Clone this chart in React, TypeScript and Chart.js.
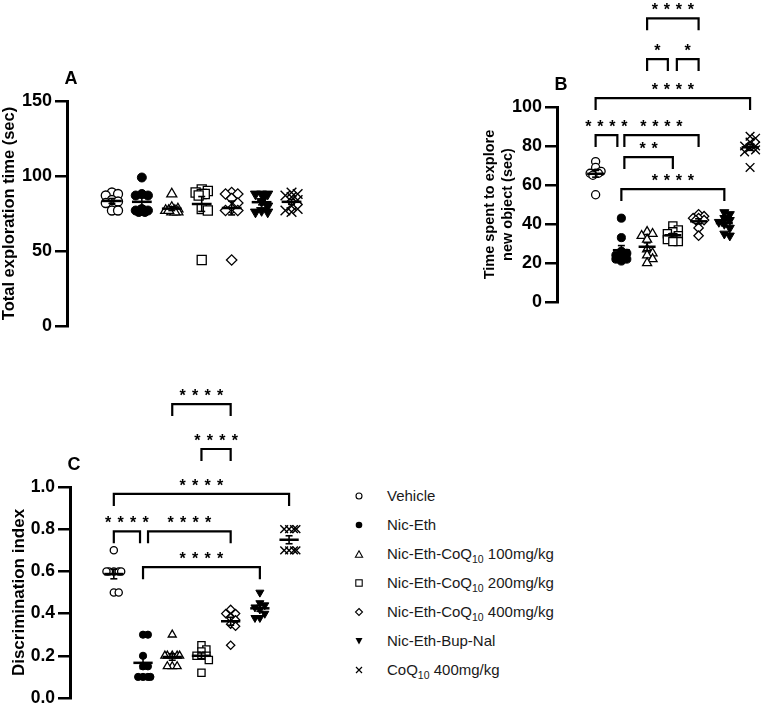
import React, { useEffect, useRef } from "react";
import { Chart, registerables } from "chart.js";
Chart.register(...registerables);

const FONT = "'Liberation Sans', Arial, Helvetica, sans-serif";

const groupNames = [
  "Vehicle",
  "Nic-Eth",
  "Nic-Eth-CoQ10 100mg/kg",
  "Nic-Eth-CoQ10 200mg/kg",
  "Nic-Eth-CoQ10 400mg/kg",
  "Nic-Eth-Bup-Nal",
  "CoQ10 400mg/kg",
];

// Panel A: total exploration time (sec)
const totalVehicle = [89, 88, 87, 84, 83, 82, 77, 77];
const totalNicEth = [99, 88, 87, 87, 78, 77, 77, 76, 76];
const totalCoQ100 = [88, 79, 78, 77, 77, 76, 76, 76, 77];
const totalCoQ200 = [44, 91, 90, 89, 88, 88, 87, 78, 77];
const totalCoQ400 = [44, 89, 88, 88, 85, 82, 78, 77, 77];
const totalBupNal = [88, 88, 88, 87, 83, 80, 77, 76, 76];
const totalCoQOnly = [89, 88, 87, 86, 84, 80, 78, 77, 76];

// Panel B: time spent to explore new object (sec)
const newObjVehicle = [72, 69, 67, 66, 66, 66, 65, 55];
const newObjNicEth = [43, 33, 26, 25, 24, 23, 22, 21, 22];
const newObjCoQ100 = [36, 35, 34, 32, 27, 25, 24, 22, 20];
const newObjCoQ200 = [39, 37, 36, 35, 34, 33, 32, 31, 31];
const newObjCoQ400 = [45, 44, 43, 43, 42, 42, 38, 34];
const newObjBupNal = [46, 45, 43, 42, 41, 40, 38, 35, 34];
const newObjCoQOnly = [85, 84, 82, 80, 80, 79, 78, 77, 69];

// Panel C: discrimination index
const diVehicle = [0.7, 0.6, 0.6, 0.6, 0.6, 0.6, 0.5, 0.5];
const diNicEth = [0.3, 0.3, 0.2, 0.15, 0.15, 0.1, 0.1, 0.1, 0.1];
const diCoQ100 = [0.3, 0.2, 0.2, 0.2, 0.2, 0.2, 0.15, 0.15, 0.15];
const diCoQ200 = [0.25, 0.23, 0.22, 0.2, 0.2, 0.2, 0.18, 0.12];
const diCoQ400 = [0.42, 0.4, 0.4, 0.38, 0.37, 0.35, 0.34, 0.25];
const diBupNal = [0.5, 0.45, 0.44, 0.43, 0.42, 0.4, 0.38, 0.38];
const diCoQOnly = [0.8, 0.8, 0.8, 0.8, 0.7, 0.7, 0.7, 0.7];

// Significance comparisons: groups (1-based), bracket level in y units, label
const newObjComparisons = [
  { a: 1, b: 2, level: 85.6, label: "****" },
  { a: 2, b: 5, level: 85.6, label: "****" },
  { a: 2, b: 4, level: 74.3, label: "**" },
  { a: 2, b: 6, level: 57.9, label: "****" },
  { a: 1, b: 7, level: 104.6, label: "****" },
  { a: 3, b: 4, level: 124.6, label: "*" },
  { a: 4, b: 5, level: 124.6, label: "*" },
  { a: 3, b: 5, level: 145.5, label: "****" },
];
const newObjBracketGaps = [[0, -4], [3, 0], [3, 0], [0, 0], [0, 0], [0, -5], [4, 0], [0, 0]];

const diComparisons = [
  { a: 1, b: 2, level: 0.79, label: "****" },
  { a: 2, b: 5, level: 0.79, label: "****" },
  { a: 2, b: 6, level: 0.62, label: "****" },
  { a: 1, b: 7, level: 0.967, label: "****" },
  { a: 4, b: 5, level: 1.18, label: "****" },
  { a: 3, b: 5, level: 1.393, label: "****" },
];
const diBracketGaps = [[0, -3], [5, 0], [0, 0], [0, 0], [0, 0], [0, 0]];

const markerStyles = [
  { style: "circle", fill: "#fff", rot: 0, r: 4.5, bw: 1.3 },
  { style: "circle", fill: "#000", rot: 0, r: 4.5, bw: 1 },
  { style: "triangle", fill: "#fff", rot: 0, r: 5.8, bw: 1.3 },
  { style: "rect", fill: "#fff", rot: 0, r: 6.4, bw: 1.3 },
  { style: "rectRot", fill: "#fff", rot: 0, r: 5.2, bw: 1.3 },
  { style: "triangle", fill: "#000", rot: 180, r: 5.8, bw: 1 },
  { style: "crossRot", fill: "#000", rot: 0, r: 6.8, bw: 1.4 },
];

type Cmp = { a: number; b: number; level: number; label: string };
type Spec = {
  letter: string;
  box: { left: number; top: number; w: number; h: number };
  padL: number;
  yWidth: number;
  padTop: number;
  padBottom: number;
  spacing: number;
  yMax: number;
  step: number;
  tickSize: number;
  decimals: number;
  title: string | string[];
  titleSize: number;
  titleLH: number;
  size: number;
  spread: number;
  groups: number[][];
  comps: Cmp[];
  gaps: number[][];
  starSpacing: number;
};

function swarmOffsets(vals: number[], pxPerY: number, spacing: number, diam: number, maxHalf: number): number[] {
  const idx = vals.map((_, i) => i).sort((p, q) => vals[q] - vals[p]);
  const placed: [number, number][] = [];
  const out = new Array(vals.length).fill(0);
  const step = diam * 0.35;
  const minD = diam * 0.69;
  for (const i of idx) {
    const py = vals[i] * pxPerY;
    let best = 0;
    let bestD = -1;
    let found = false;
    for (let k = 0; k < 80; k++) {
      const dx = k === 0 ? 0 : (k % 2 ? 1 : -1) * Math.ceil(k / 2) * step;
      if (Math.abs(dx) > maxHalf) break;
      const d = placed.reduce((mn, [px, qy]) => Math.min(mn, Math.hypot(px - dx, qy - py)), 1e9);
      if (d >= minD) {
        best = dx;
        found = true;
        break;
      }
      if (d > bestD) {
        bestD = d;
        best = dx;
      }
    }
    void found;
    placed.push([best, py]);
    out[i] = best / spacing;
  }
  return out;
}

function makeExtras(p: Spec) {
  return {
    id: "extras" + p.letter,
    afterDatasetsDraw(chart: any) {
      const { ctx, chartArea } = chart;
      const xs = chart.scales.x;
      const ys = chart.scales.y;
      const unit = xs.getPixelForValue(1) - xs.getPixelForValue(0);
      const line = (x1: number, y1: number, x2: number, y2: number) => {
        ctx.beginPath();
        ctx.moveTo(x1, y1);
        ctx.lineTo(x2, y2);
        ctx.stroke();
      };
      ctx.save();
      ctx.strokeStyle = "#000";
      ctx.fillStyle = "#000";
      p.groups.forEach((vals, i) => {
        const n = vals.length;
        const m = vals.reduce((s, v) => s + v, 0) / n;
        const sd = Math.sqrt(vals.reduce((s, v) => s + (v - m) * (v - m), 0) / (n - 1));
        const sem = sd / Math.sqrt(n);
        const cx = xs.getPixelForValue(i + 1);
        const half = unit * 0.33;
        const ym = ys.getPixelForValue(m);
        ctx.lineWidth = 2.5;
        line(cx - half, ym, cx + half, ym);
        ctx.lineWidth = 1.6;
        const yt = ys.getPixelForValue(m + sem);
        const yb = ys.getPixelForValue(m - sem);
        line(cx, yt, cx, yb);
        line(cx - 3.5, yt, cx + 3.5, yt);
        line(cx - 3.5, yb, cx + 3.5, yb);
      });
      ctx.lineWidth = 2.2;
      p.comps.forEach((c, k) => {
        const g = p.gaps[k] || [0, 0];
        const x1 = xs.getPixelForValue(c.a) + g[0];
        const x2 = xs.getPixelForValue(c.b) + g[1];
        const y = ys.getPixelForValue(c.level);
        ctx.beginPath();
        ctx.moveTo(x1, y + 12);
        ctx.lineTo(x1, y);
        ctx.lineTo(x2, y);
        ctx.lineTo(x2, y + 12);
        ctx.stroke();
        const n = c.label.length;
        const cx = (x1 + x2) / 2;
        const cy = y - 13;
        const fs = 16;
        ctx.font = `bold ${fs}px ${FONT}`;
        ctx.textAlign = "center";
        ctx.textBaseline = "alphabetic";
        for (let j = 0; j < n; j++) {
          ctx.fillText("*", cx + (j - (n - 1) / 2) * p.starSpacing, cy + 0.6 * fs);
        }
      });
      ctx.font = `bold 18px ${FONT}`;
      ctx.textAlign = "center";
      ctx.textBaseline = "middle";
      ctx.fillText(p.letter, chartArea.left + 4, chartArea.top - 22);
      ctx.restore();
    },
  };
}

function buildConfig(p: Spec): any {
  const chartH = p.box.h - p.padTop - p.padBottom;
  const pxPerY = chartH / p.yMax;
  const xMin = -0.5;
  const xMax = xMin + (p.box.w - p.padL - p.yWidth) / p.spacing;
  const datasets = p.groups.map((vals, i) => {
    const ms = markerStyles[i];
    const offs = swarmOffsets(vals, pxPerY, p.spacing, 9 * p.size, p.spread);
    return {
      label: groupNames[i],
      data: vals.map((v, j) => ({ x: i + 1 + offs[j], y: v })),
      pointStyle: ms.style,
      pointRotation: ms.rot,
      pointRadius: ms.r * p.size,
      pointBackgroundColor: ms.fill,
      pointBorderColor: "#000",
      pointBorderWidth: ms.bw,
      showLine: false,
      clip: false,
    };
  });
  return {
    type: "scatter",
    data: { datasets },
    plugins: [makeExtras(p)],
    options: {
      animation: false,
      responsive: false,
      devicePixelRatio: 1,
      events: [],
      layout: { padding: { left: p.padL, top: p.padTop, bottom: p.padBottom, right: 0 } },
      plugins: { legend: { display: false }, tooltip: { enabled: false } },
      scales: {
        x: { type: "linear", min: xMin, max: xMax, display: false },
        y: {
          type: "linear",
          min: 0,
          max: p.yMax,
          afterFit: (s: any) => {
            s.width = p.yWidth;
          },
          ticks: {
            stepSize: p.step,
            autoSkip: false,
            padding: 3,
            color: "#000",
            font: { family: FONT, size: p.tickSize, weight: "bold" },
            callback: (v: any) => Number(v).toFixed(p.decimals),
          },
          grid: {
            display: true,
            drawOnChartArea: false,
            drawTicks: true,
            tickLength: 12,
            color: "#000",
            lineWidth: 2.5,
          },
          border: { display: true, color: "#000", width: 3 },
          title: {
            display: true,
            text: p.title,
            color: "#000",
            padding: { top: 0, bottom: 0 },
            font: { family: FONT, size: p.titleSize, weight: "bold", lineHeight: p.titleLH },
          },
        },
      },
    },
  };
}

const specA: Spec = {
  letter: "A",
  box: { left: 0, top: 0, w: 360, h: 345 },
  padL: 0,
  yWidth: 67,
  padTop: 101,
  padBottom: 19,
  spacing: 30.8,
  yMax: 150,
  step: 50,
  tickSize: 18,
  decimals: 0,
  title: "Total exploration time (sec)",
  titleSize: 16.5,
  titleLH: 1.2,
  size: 1.0,
  spread: 8,
  groups: [totalVehicle, totalNicEth, totalCoQ100, totalCoQ200, totalCoQ400, totalBupNal, totalCoQOnly],
  comps: [],
  gaps: [],
  starSpacing: 12,
};

const specB: Spec = {
  letter: "B",
  box: { left: 430, top: 0, w: 337, h: 320 },
  padL: 51,
  yWidth: 76,
  padTop: 107,
  padBottom: 18,
  spacing: 26.7,
  yMax: 100,
  step: 20,
  tickSize: 18,
  decimals: 0,
  title: ["Time spent to explore", "new object (sec)"],
  titleSize: 14.5,
  titleLH: 1.24,
  size: 0.9,
  spread: 8,
  groups: [newObjVehicle, newObjNicEth, newObjCoQ100, newObjCoQ200, newObjCoQ400, newObjBupNal, newObjCoQOnly],
  comps: newObjComparisons,
  gaps: newObjBracketGaps,
  starSpacing: 12,
};

const specC: Spec = {
  letter: "C",
  box: { left: 0, top: 350, w: 330, h: 370 },
  padL: 9,
  yWidth: 61,
  padTop: 137,
  padBottom: 22,
  spacing: 30,
  yMax: 1,
  step: 0.2,
  tickSize: 17.5,
  decimals: 1,
  title: "Discrimination index",
  titleSize: 17,
  titleLH: 1.2,
  size: 0.8,
  spread: 8,
  groups: [diVehicle, diNicEth, diCoQ100, diCoQ200, diCoQ400, diBupNal, diCoQOnly],
  comps: diComparisons,
  gaps: diBracketGaps,
  starSpacing: 12.5,
};

function Panel({ spec }: { spec: Spec }) {
  const ref = useRef<HTMLCanvasElement>(null);
  useEffect(() => {
    const chart = new Chart(ref.current as HTMLCanvasElement, buildConfig(spec));
    return () => chart.destroy();
  }, []);
  return (
    <canvas
      ref={ref}
      width={spec.box.w}
      height={spec.box.h}
      style={{ position: "absolute", left: spec.box.left, top: spec.box.top, width: spec.box.w, height: spec.box.h }}
    />
  );
}

function LegendMarker({ i }: { i: number }) {
  const common = { stroke: "#000", strokeWidth: 1.1 };
  let shape: any = null;
  if (i === 0) shape = <circle cx={5} cy={5} r={3} fill="#fff" {...common} />;
  else if (i === 1) shape = <circle cx={5} cy={5} r={3.3} fill="#000" />;
  else if (i === 2) shape = <polygon points="5,1.8 8.6,8.2 1.4,8.2" fill="#fff" {...common} />;
  else if (i === 3) shape = <rect x={1.8} y={1.8} width={6.4} height={6.4} fill="#fff" {...common} />;
  else if (i === 4) shape = <polygon points="5,1.5 8.5,5 5,8.5 1.5,5" fill="#fff" {...common} />;
  else if (i === 5) shape = <polygon points="1.5,2 8.5,2 5,8.5" fill="#000" />;
  else shape = <path d="M2,2 L8,8 M8,2 L2,8" stroke="#000" strokeWidth={1.2} fill="none" />;
  return (
    <svg width={10} height={10} viewBox="0 0 10 10" style={{ position: "absolute", left: -5, top: -5 }}>
      {shape}
    </svg>
  );
}

function LegendLabel({ text }: { text: string }) {
  const parts = text.split("CoQ10");
  const out: any[] = [];
  parts.forEach((part, k) => {
    out.push(<span key={"p" + k}>{part}</span>);
    if (k < parts.length - 1) {
      out.push(<span key={"c" + k}>CoQ</span>);
      out.push(
        <span key={"s" + k} style={{ fontSize: 10.5, position: "relative", top: 4 }}>
          10
        </span>
      );
    }
  });
  return <>{out}</>;
}

export default function App() {
  return (
    <div
      style={{
        position: "absolute",
        left: 0,
        top: 0,
        width: 767,
        height: 706,
        overflow: "hidden",
        background: "#fff",
      }}
    >
      <Panel spec={specA} />
      <Panel spec={specB} />
      <Panel spec={specC} />
      {groupNames.map((name, i) => (
        <div key={name} style={{ position: "absolute", left: 359, top: 496 + i * 29, height: 0 }}>
          <LegendMarker i={i} />
          <div
            style={{
              position: "absolute",
              left: 28,
              top: -9,
              whiteSpace: "nowrap",
              fontFamily: FONT,
              fontSize: 15,
              lineHeight: "18px",
              color: "#1a1a1a",
            }}
          >
            <LegendLabel text={name} />
          </div>
        </div>
      ))}
    </div>
  );
}
